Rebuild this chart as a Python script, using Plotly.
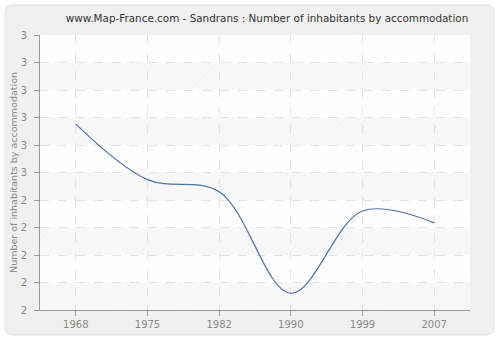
import plotly.graph_objects as go

years = ["1968", "1975", "1982", "1990", "1999", "2007"]
values = [2.676, 2.474, 2.43, 2.061, 2.36, 2.317]

ytick_vals = [2.0, 2.1, 2.2, 2.3, 2.4, 2.5, 2.6, 2.7, 2.8, 2.9, 3.0]
ytick_text = ["2", "2", "2", "2", "2", "3", "3", "3", "3", "3", "3"]

W, H = 500, 340
L, R, T, B = 40, 30, 35, 30
pw, ph = W - L - R, H - T - B

def px(x):
    return (x - L) / pw

def py(y):
    return (H - B - y) / ph

# rounded background panel (paper coordinates)
x0, x1, y0, y1, r = 5, 494, 5, 335, 8
path = (f"M {px(x0 + r)} {py(y0)} L {px(x1 - r)} {py(y0)} "
        f"Q {px(x1)} {py(y0)} {px(x1)} {py(y0 + r)} "
        f"L {px(x1)} {py(y1 - r)} Q {px(x1)} {py(y1)} {px(x1 - r)} {py(y1)} "
        f"L {px(x0 + r)} {py(y1)} Q {px(x0)} {py(y1)} {px(x0)} {py(y1 - r)} "
        f"L {px(x0)} {py(y0 + r)} Q {px(x0)} {py(y0)} {px(x0 + r)} {py(y0)} Z")

shapes = [
    dict(type="path", path=path, xref="paper", yref="paper",
         fillcolor="#f0f0f0", line=dict(color="#e2e2e2", width=1),
         layer="below"),
    dict(type="rect", x0=0, x1=1, y0=0, y1=1, xref="paper", yref="paper",
         fillcolor="#ffffff", line=dict(width=0), layer="below"),
]
# alternating light bands between grid lines
for i in range(0, len(ytick_vals) - 1, 2):
    shapes.append(dict(type="rect", x0=0, x1=1, xref="paper", yref="y",
                       y0=ytick_vals[i], y1=ytick_vals[i + 1],
                       fillcolor="#f8f8f8", line=dict(width=0), layer="below"))

fig = go.Figure()

# hatched plot background (transparent so the grid shows through)
fig.add_trace(go.Bar(
    x=years, y=[1.0] * len(years), base=[2.0] * len(years), width=1.0,
    marker=dict(color="rgba(255,255,255,0)", line=dict(width=0),
                pattern=dict(shape="/", fgcolor="#ececec", bgcolor="rgba(255,255,255,0)",
                             size=5, solidity=0.15)),
    hoverinfo="skip", showlegend=False,
))

fig.add_trace(go.Scatter(
    x=years, y=values, mode="lines",
    line=dict(color="#4a74a6", width=1.2, shape="spline", smoothing=1.0),
    showlegend=False,
))

fig.update_layout(
    width=W, height=H,
    margin=dict(l=L, r=R, t=T, b=B),
    paper_bgcolor="#ffffff",
    plot_bgcolor="#ffffff",
    bargap=0,
    font=dict(family="DejaVu Sans", size=10, color="#888888"),
    title=dict(text="www.Map-France.com - Sandrans : Number of inhabitants by accommodation",
               x=267 / W, xanchor="center", xref="container",
               y=1 - 18 / H, yanchor="middle", yref="container",
               font=dict(family="DejaVu Sans", size=10.4, color="#333333")),
    shapes=shapes,
    xaxis=dict(
        type="category", range=[-0.5, 5.5], automargin=False,
        showline=True, linecolor="#999999", linewidth=1,
        ticks="outside", ticklen=5, tickcolor="#999999",
        showgrid=True, gridcolor="#e3e3e3", griddash="dash", gridwidth=1,
        tickfont=dict(size=10, color="#888888"),
        zeroline=False, fixedrange=True,
    ),
    yaxis=dict(
        range=[2.0, 3.0], automargin=False,
        tickvals=ytick_vals, ticktext=ytick_text,
        showline=True, linecolor="#999999", linewidth=1,
        ticks="outside", ticklen=5, tickcolor="#999999", ticklabelstandoff=5,
        showgrid=True, gridcolor="#e3e3e3", griddash="dash", gridwidth=1,
        tickfont=dict(size=10, color="#888888"),
        title=dict(text="Number of inhabitants by accommodation",
                   font=dict(size=9.5, color="#888888"), standoff=1),
        zeroline=False, fixedrange=True,
    ),
)

fig.write_html("out.html")
